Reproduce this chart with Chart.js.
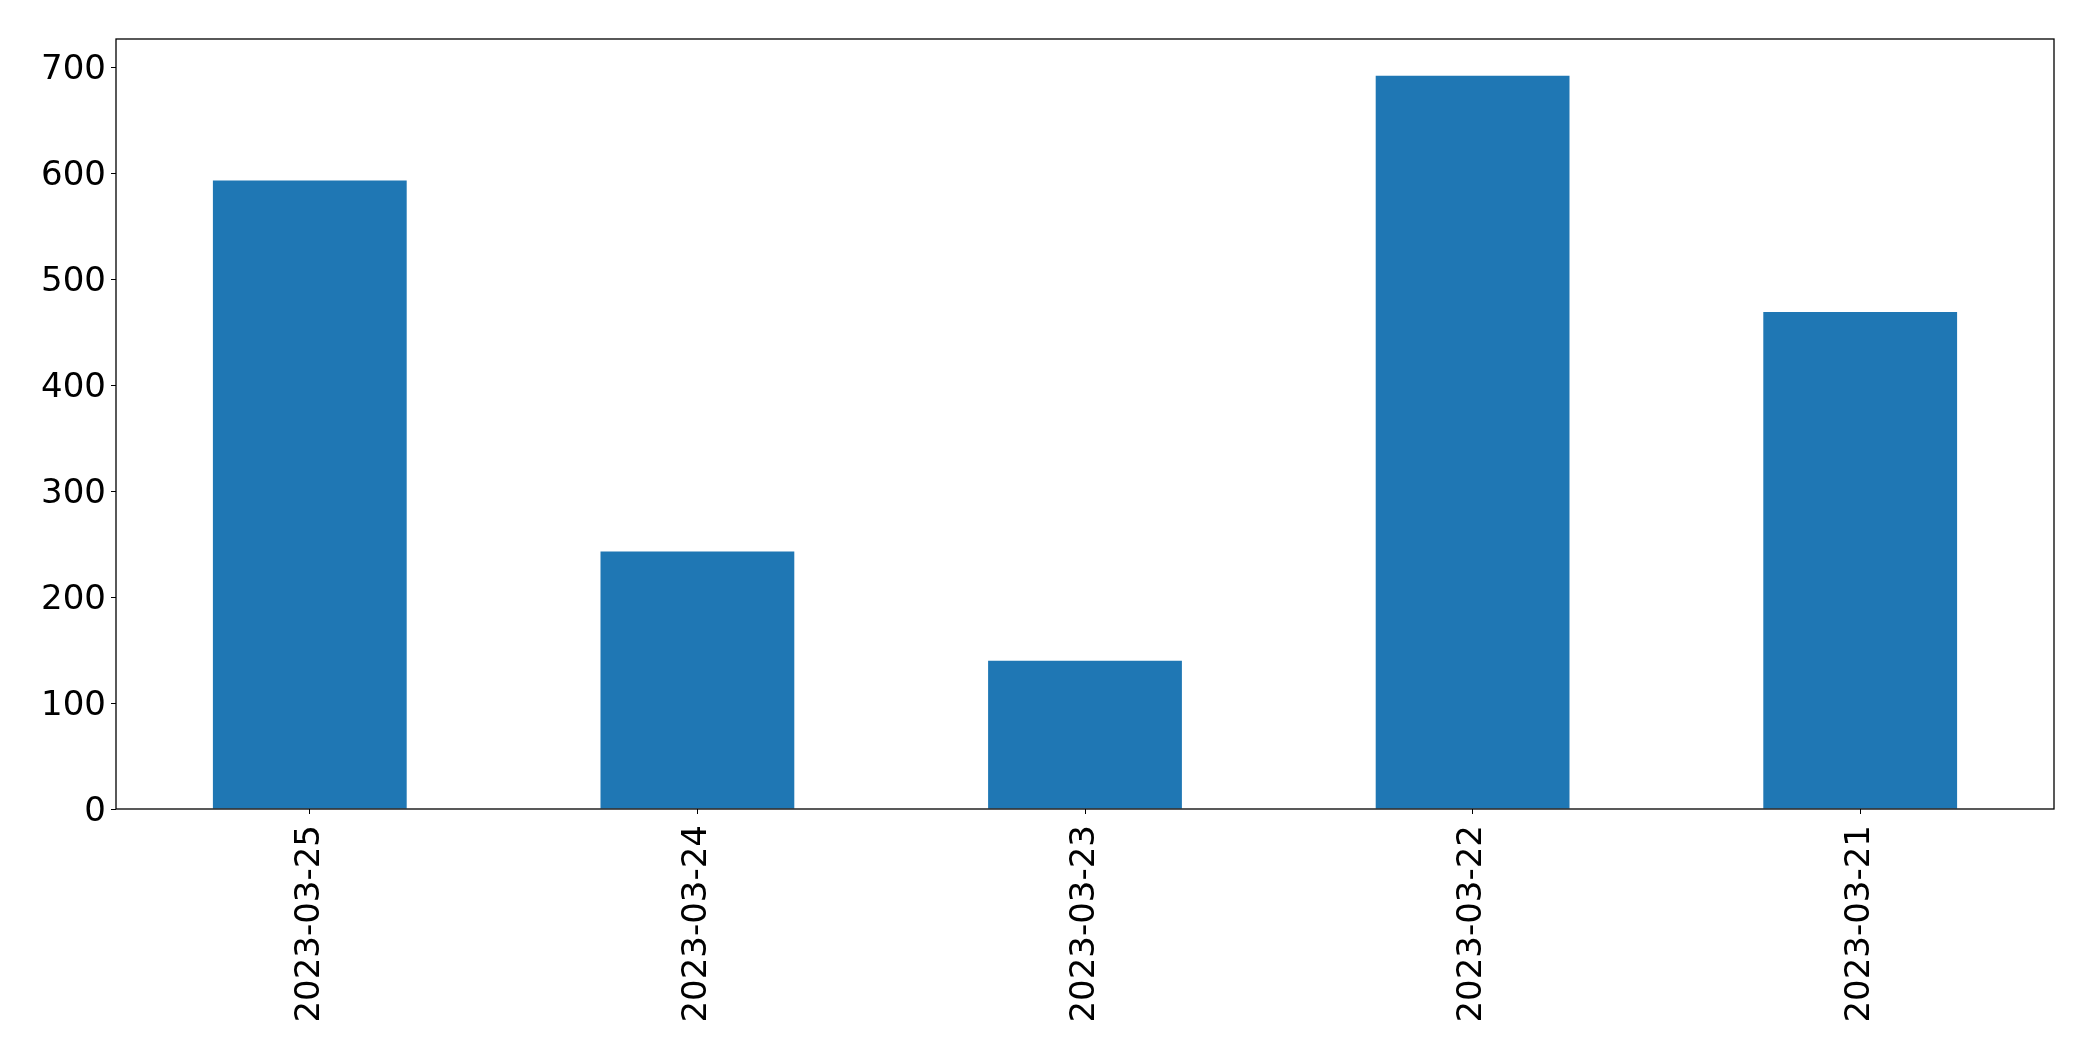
<!DOCTYPE html>
<html>
<head>
<meta charset="utf-8">
<script src="https://cdn.jsdelivr.net/npm/chart.js@4.4.0/dist/chart.umd.min.js"></script>
<style>
  html, body { margin: 0; padding: 0; background: #fff; }
  canvas { display: block; }
</style>
</head>
<body>
<canvas id="grafica" width="2093" height="1061"></canvas>
<script>
// datos
const fechas = ['2023-03-25', '2023-03-24', '2023-03-23', '2023-03-22', '2023-03-21'];
const valores = [593, 243, 140, 692, 469];
const yTicks = [0, 100, 200, 300, 400, 500, 600, 700];

const fuente = { family: 'DejaVu Sans', size: 34 };
const yMax = Math.max(...valores) * 1.05;

// marco completo alrededor del area de dibujo
const marco = {
    id: 'marco',
    afterDraw(chart) {
        const { ctx, chartArea: a } = chart;
        ctx.save();
        ctx.strokeStyle = '#000';
        ctx.lineWidth = 1.3;
        ctx.strokeRect(a.left, a.top, a.right - a.left, a.bottom - a.top);
        ctx.restore();
    }
};

new Chart(document.getElementById('grafica'), {
    type: 'bar',
    data: {
        labels: fechas,
        datasets: [{ data: valores, backgroundColor: '#1f77b4', borderWidth: 0, categoryPercentage: 1, barPercentage: 0.5 }]
    },
    options: {
        responsive: false,
        animation: false,
        layout: { padding: { top: 39, right: 39, left: 0, bottom: 0 } },
        plugins: { legend: { display: false }, tooltip: { enabled: false } },
        scales: {
            x: {
                offset: true,
                grid: { offset: false, drawOnChartArea: false, drawTicks: true, tickLength: 5, tickColor: '#000', color: '#000' },
                border: { display: false },
                ticks: { color: '#000', font: fuente, maxRotation: 90, minRotation: 90, padding: 11 },
                afterFit(s) { s.height = 252; }
            },
            y: {
                min: 0,
                max: yMax,
                afterBuildTicks(s) { s.ticks = yTicks.map(v => ({ value: v })); },
                grid: { drawOnChartArea: false, drawTicks: true, tickLength: 5, tickColor: '#000', color: '#000' },
                border: { display: false },
                ticks: { color: '#000', font: fuente, padding: 5, labelOffset: 3 },
                afterFit(s) { s.width = 116; }
            }
        }
    },
    plugins: [marco]
});
</script>
</body>
</html>
